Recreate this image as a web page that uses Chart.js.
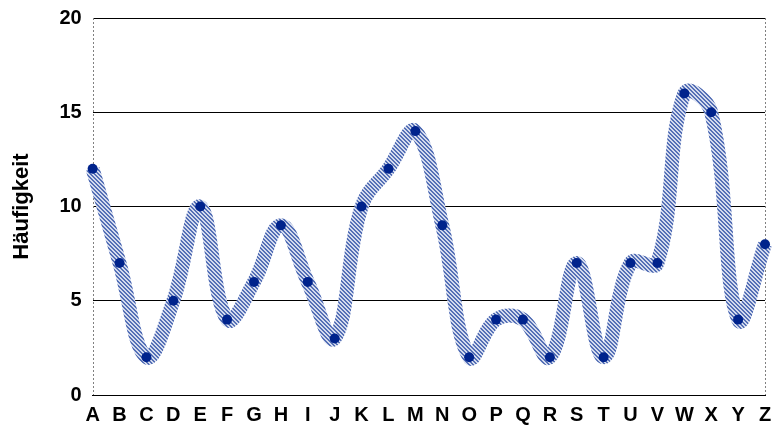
<!DOCTYPE html>
<html>
<head>
<meta charset="utf-8">
<script src="https://cdn.jsdelivr.net/npm/chart.js@4/dist/chart.umd.min.js"></script>
<style>
  html, body { margin: 0; padding: 0; background: #fff; }
  #wrap { width: 773px; height: 425px; }
</style>
</head>
<body>
<div id="wrap"><canvas id="chart" width="773" height="425"></canvas></div>
<script>
// Data
const letters = ['A','B','C','D','E','F','G','H','I','J','K','L','M','N','O','P','Q','R','S','T','U','V','W','X','Y','Z'];
const counts = [12, 7, 2, 5, 10, 4, 6, 9, 6, 3, 10, 12, 14, 9, 2, 4, 4, 2, 7, 2, 7, 7, 16, 15, 4, 8];
const yTicks = [0, 5, 10, 15, 20];

const labelFont = { family: 'Liberation Sans, Arial', size: 20, weight: 'bold', lineHeight: 1 };

// striped fill for the thick line
function makeStripes() {
  const c = document.createElement('canvas');
  c.width = 4; c.height = 4;
  const g = c.getContext('2d');
  g.fillStyle = '#d4dbee';
  g.fillRect(0, 0, 4, 4);
  g.fillStyle = '#5570b6';
  for (let x = 0; x < 4; x++) {
    for (let y = 0; y < 4; y++) {
      if ((x - y + 8) % 4 < 2) g.fillRect(x, y, 1, 1);
    }
  }
  return g.createPattern(c, 'repeat');
}

// dashed left/right frame lines
const frameLines = {
  id: 'frameLines',
  beforeDatasetsDraw(chart) {
    const { ctx, chartArea } = chart;
    ctx.save();
    ctx.strokeStyle = '#808080';
    ctx.lineWidth = 1;
    ctx.setLineDash([2, 2]);
    [chartArea.left, chartArea.right].forEach(x => {
      ctx.beginPath();
      ctx.moveTo(Math.round(x) + 0.5, chartArea.top);
      ctx.lineTo(Math.round(x) + 0.5, chartArea.bottom);
      ctx.stroke();
    });
    ctx.restore();
  }
};

const ctx = document.getElementById('chart').getContext('2d');
const stripes = makeStripes();

new Chart(ctx, {
  type: 'line',
  data: {
    labels: letters,
    datasets: [{
      data: counts,
      borderColor: stripes,
      borderWidth: 14,
      tension: 0.4,
      fill: false,
      pointRadius: 5,
      pointBackgroundColor: '#00238c',
      pointBorderWidth: 0,
      pointHoverRadius: 5
    }]
  },
  options: {
    responsive: false,
    animation: false,
    events: [],
    layout: { padding: { top: 0, right: 0, left: 6, bottom: -10 } },
    plugins: {
      legend: { display: false },
      tooltip: { enabled: false }
    },
    scales: {
      x: {
        offset: false,
        afterFit: s => { s.paddingRight = 8; },
        grid: { display: false, drawTicks: false },
        border: { display: true, color: '#000', width: 1 },
        ticks: {
          color: '#000',
          padding: 10,
          maxRotation: 0,
          autoSkip: false,
          font: labelFont
        }
      },
      y: {
        min: 0,
        max: 20,
        afterFit: s => { s.paddingTop = 18; },
        afterBuildTicks: axis => { axis.ticks = yTicks.map(v => ({ value: v })); },
        grid: {
          drawTicks: false,
          color: c => (c.tick && c.tick.value > 0 ? '#000' : 'rgba(0,0,0,0)'),
          lineWidth: 1
        },
        border: { display: false },
        ticks: {
          color: '#000',
          padding: 11,
          font: labelFont
        },
        title: {
          display: true,
          text: 'Häufigkeit',
          color: '#000',
          padding: { top: 3, bottom: 13 },
          font: { family: 'Liberation Sans, Arial', size: 22, weight: 'bold' }
        }
      }
    }
  },
  plugins: [frameLines]
});
</script>
</body>
</html>
